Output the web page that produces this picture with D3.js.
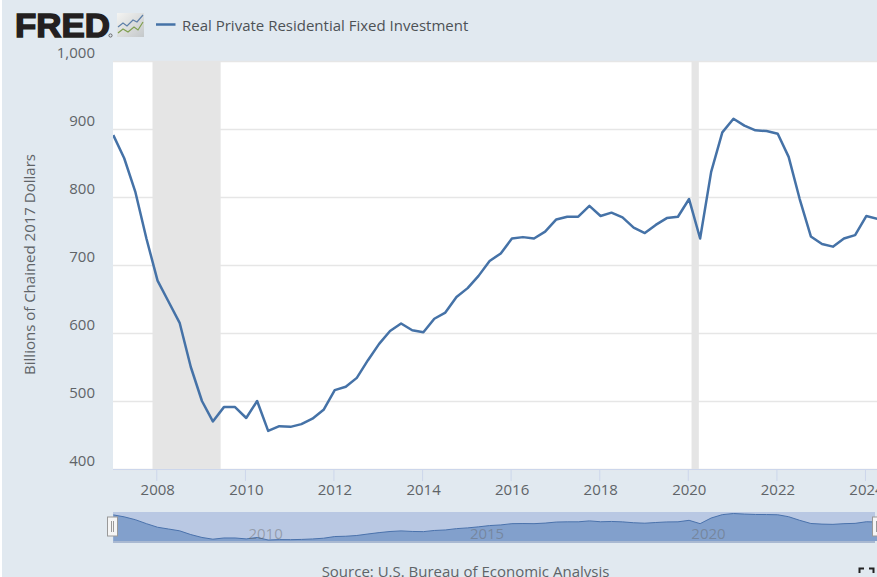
<!DOCTYPE html>
<html>
<head>
<meta charset="utf-8">
<script src="https://cdn.jsdelivr.net/npm/d3@7"></script>
<style>
  html, body { margin: 0; padding: 0; background: #fff; overflow: hidden; }
  svg { display: block; }
  text { font-family: "Open Sans", sans-serif; }
</style>
</head>
<body>
<div id="chart"></div>
<script>
// Data
const quarters = [
  "2007-01-01", "2007-04-01", "2007-07-01", "2007-10-01",
  "2008-01-01", "2008-04-01", "2008-07-01", "2008-10-01",
  "2009-01-01", "2009-04-01", "2009-07-01", "2009-10-01",
  "2010-01-01", "2010-04-01", "2010-07-01", "2010-10-01",
  "2011-01-01", "2011-04-01", "2011-07-01", "2011-10-01",
  "2012-01-01", "2012-04-01", "2012-07-01", "2012-10-01",
  "2013-01-01", "2013-04-01", "2013-07-01", "2013-10-01",
  "2014-01-01", "2014-04-01", "2014-07-01", "2014-10-01",
  "2015-01-01", "2015-04-01", "2015-07-01", "2015-10-01",
  "2016-01-01", "2016-04-01", "2016-07-01", "2016-10-01",
  "2017-01-01", "2017-04-01", "2017-07-01", "2017-10-01",
  "2018-01-01", "2018-04-01", "2018-07-01", "2018-10-01",
  "2019-01-01", "2019-04-01", "2019-07-01", "2019-10-01",
  "2020-01-01", "2020-04-01", "2020-07-01", "2020-10-01",
  "2021-01-01", "2021-04-01", "2021-07-01", "2021-10-01",
  "2022-01-01", "2022-04-01", "2022-07-01", "2022-10-01",
  "2023-01-01", "2023-04-01", "2023-07-01", "2023-10-01",
  "2024-01-01", "2024-04-01"
];
const investment = [
  891, 857, 808, 739,
  677, 646, 615, 550,
  500, 470, 491, 491,
  475, 500, 456, 463,
  462, 466, 474, 487,
  516, 521, 534, 560,
  584, 603, 614, 604,
  601, 621, 630, 653,
  666, 684, 706, 717,
  739, 741, 739, 749,
  767, 771, 771, 787,
  772, 777, 770, 755,
  747, 759, 769, 771,
  797, 739, 837, 895,
  915, 905, 898, 897,
  893, 859, 797, 742,
  731, 727, 739, 744,
  772, 768
];
const recessions = [["2007-12-01", "2009-06-15"], ["2020-02-01", "2020-04-01"]];
const yearTicks = ["2008", "2010", "2012", "2014", "2016", "2018", "2020", "2022", "2024"];
const yTicks = [400, 500, 600, 700, 800, 900, 1000];
const navigatorYears = ["2010", "2015", "2020"];
const seriesName = "Real Private Residential Fixed Investment";
const yTitle = "Billions of Chained 2017 Dollars";
const source = "Source: U.S. Bureau of Economic Analysis";

const width = 877;
const height = 577;
const plot = { left: 113, right: 877, top: 61, bottom: 469 };
const nav = { top: 512, bottom: 543 };
const bg = "#e1e9f0";
const lineColor = "#4572a7";
const textColor = "#5f6468";
const fontSize = 15;

const parseDate = d3.timeParse("%Y-%m-%d");
const parseYear = d3.timeParse("%Y");
const data = quarters.map((q, i) => ({ date: parseDate(q), value: investment[i] }));

const svg = d3.select("#chart").append("svg")
  .attr("width", width)
  .attr("height", height);

svg.append("rect")
  .attr("x", 2).attr("y", 0)
  .attr("width", width - 2).attr("height", height)
  .attr("fill", bg);

// scales
const x = d3.scaleTime()
  .domain([parseDate("2007-01-01"), parseDate("2024-04-01")])
  .range([112, 876]);
const y = d3.scaleLinear().domain([400, 1000]).range([plot.bottom, plot.top]);
const yNav = d3.scaleLinear().domain([456, 915]).range([540, 513.5]);

svg.append("defs").append("clipPath").attr("id", "plot-clip")
  .append("rect")
  .attr("x", plot.left).attr("y", plot.top)
  .attr("width", plot.right - plot.left).attr("height", plot.bottom - plot.top);

svg.append("rect")
  .attr("x", plot.left).attr("y", plot.top)
  .attr("width", plot.right - plot.left).attr("height", plot.bottom - plot.top)
  .attr("fill", "#fff");

// gridlines
const grid = svg.append("g")
  .attr("transform", `translate(${plot.left},0)`)
  .call(d3.axisLeft(y).tickValues(yTicks).tickSize(-(plot.right - plot.left)).tickFormat(""));
grid.select(".domain").remove();
grid.selectAll("line").attr("stroke", "#e6e6e6").attr("stroke-width", 1.5);

// recession bands
svg.append("g").selectAll("rect")
  .data(recessions)
  .enter().append("rect")
  .attr("x", d => x(parseDate(d[0])))
  .attr("y", plot.top)
  .attr("width", d => x(parseDate(d[1])) - x(parseDate(d[0])))
  .attr("height", plot.bottom - plot.top)
  .attr("fill", "#e5e5e5");

// y labels
const yAxis = svg.append("g")
  .attr("transform", "translate(95,-8)")
  .call(d3.axisLeft(y).tickValues(yTicks).tickSize(0).tickPadding(0).tickFormat(d3.format(",")));
yAxis.select(".domain").remove();
yAxis.selectAll("text")
  .attr("font-family", "Open Sans")
  .attr("font-size", fontSize)
  .attr("fill", textColor);

svg.append("text")
  .attr("transform", "translate(30,264.5) rotate(-90)")
  .attr("dy", "0.35em")
  .attr("text-anchor", "middle")
  .attr("font-size", fontSize)
  .attr("fill", textColor)
  .text(yTitle);

// x axis
const xAxis = svg.append("g")
  .attr("transform", `translate(0,${plot.bottom})`)
  .call(d3.axisBottom(x)
    .tickValues(yearTicks.map(parseYear))
    .tickSize(12)
    .tickPadding(0)
    .tickFormat(d3.timeFormat("%Y")));
xAxis.select(".domain").remove();
xAxis.selectAll("line").attr("stroke", "#ccd6eb");
xAxis.selectAll("text")
  .attr("x", 1)
  .attr("y", 20)
  .attr("dy", "0")
  .attr("dominant-baseline", "central")
  .attr("font-family", "Open Sans")
  .attr("font-size", fontSize)
  .attr("fill", textColor);

svg.append("line")
  .attr("x1", plot.left).attr("x2", plot.right)
  .attr("y1", plot.bottom + 0.5).attr("y2", plot.bottom + 0.5)
  .attr("stroke", "#ccd6eb");

// main line, sits a little to the right of the ticks like the original
const line = d3.line().x(d => x(d.date) + 1.3).y(d => y(d.value));
svg.append("g").attr("clip-path", "url(#plot-clip)")
  .append("path")
  .datum(data)
  .attr("d", line)
  .attr("fill", "none")
  .attr("stroke", lineColor)
  .attr("stroke-width", 2.5)
  .attr("stroke-linejoin", "round");

// navigator
svg.append("rect")
  .attr("x", plot.left).attr("y", nav.top)
  .attr("width", 762).attr("height", nav.bottom - nav.top)
  .attr("fill", "#b9c8e3");

const navArea = d3.area()
  .x(d => x(d.date) + 1.3)
  .y0(nav.bottom - 2)
  .y1(d => yNav(d.value));
svg.append("path").datum(data)
  .attr("d", navArea)
  .attr("fill", "#82a0cc");
svg.append("path").datum(data)
  .attr("d", d3.line().x(d => x(d.date) + 1.3).y(d => yNav(d.value)))
  .attr("fill", "none")
  .attr("stroke", "#4a72ac")
  .attr("stroke-width", 1);
svg.append("rect")
  .attr("x", plot.left).attr("y", nav.bottom - 2)
  .attr("width", 762).attr("height", 2)
  .attr("fill", "#a9b9d2");

svg.append("g").selectAll("text")
  .data(navigatorYears)
  .enter().append("text")
  .attr("x", d => x(parseYear(d)) + 20.7)
  .attr("y", 533)
  .attr("dominant-baseline", "central")
  .attr("text-anchor", "middle")
  .attr("font-size", fontSize)
  .attr("fill", "#666")
  .attr("fill-opacity", 0.45)
  .text(d => d);

// navigator handles
const handles = svg.append("g").selectAll("g")
  .data([107.5, 872.5])
  .enter().append("g")
  .attr("transform", d => `translate(${d},517)`);
handles.append("rect")
  .attr("width", 10).attr("height", 19)
  .attr("fill", "#f5f5f5")
  .attr("stroke", "#999");
handles.selectAll("line")
  .data([4, 6])
  .enter().append("line")
  .attr("x1", d => d).attr("x2", d => d)
  .attr("y1", 4).attr("y2", 15)
  .attr("stroke", "#999");

// source
svg.append("text")
  .attr("x", 465.5).attr("y", 577)
  .attr("text-anchor", "middle")
  .attr("font-size", fontSize)
  .attr("fill", textColor)
  .text(source);

// fullscreen icon
svg.append("path")
  .attr("d", "M859.5 573V568.5H864 M869 568.5H873.5V573")
  .attr("fill", "none")
  .attr("stroke", "#222")
  .attr("stroke-width", 2);

// FRED logo
svg.append("text")
  .attr("x", 15).attr("y", 37)
  .attr("textLength", 95)
  .attr("lengthAdjust", "spacingAndGlyphs")
  .style("font-family", "'Liberation Sans'")
  .attr("font-size", 33)
  .attr("font-weight", 700)
  .attr("fill", "#231f20")
  .attr("stroke", "#231f20")
  .attr("stroke-width", 1.4)
  .text("FRED");
svg.append("circle")
  .attr("cx", 110.5).attr("cy", 35.5).attr("r", 1.6)
  .attr("fill", "none").attr("stroke", "#231f20").attr("stroke-width", 0.6);

const grad = svg.select("defs").append("linearGradient")
  .attr("id", "logo-bg").attr("x1", 0).attr("y1", 0).attr("x2", 1).attr("y2", 1);
grad.append("stop").attr("offset", "0%").attr("stop-color", "#f4f4f2");
grad.append("stop").attr("offset", "100%").attr("stop-color", "#c4c8ca");
svg.append("rect")
  .attr("x", 117).attr("y", 13).attr("width", 27).attr("height", 24)
  .attr("fill", "url(#logo-bg)");
svg.append("path")
  .attr("d", "M118 27L123 23L127 26L133 20L137 22L143 15")
  .attr("fill", "none").attr("stroke", "#5d7fa8").attr("stroke-width", 1.2);
svg.append("path")
  .attr("d", "M118 33L123 29L128 32L134 27L138 30L143 22")
  .attr("fill", "none").attr("stroke", "#7f9f4f").attr("stroke-width", 1.2);

// legend
svg.append("line")
  .attr("x1", 156).attr("x2", 175.5)
  .attr("y1", 24.5).attr("y2", 24.5)
  .attr("stroke", lineColor)
  .attr("stroke-width", 2.5);
svg.append("text")
  .attr("x", 182).attr("y", 25)
  .attr("dominant-baseline", "central")
  .attr("font-size", fontSize)
  .attr("fill", "#4d5256")
  .text(seriesName);
</script>
</body>
</html>
